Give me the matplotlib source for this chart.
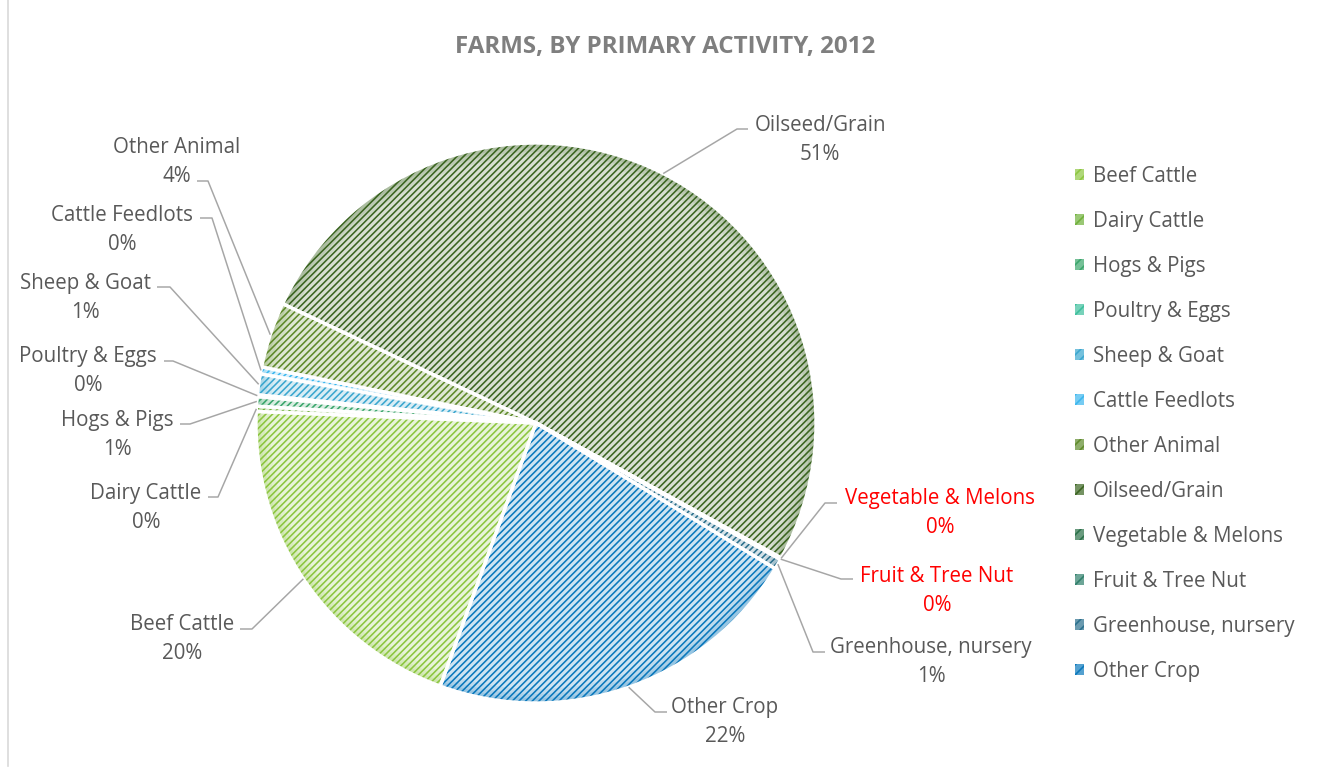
import matplotlib.pyplot as plt
import numpy as np
from matplotlib.colors import to_rgb
from matplotlib.patches import Patch

W, H, DPI = 1325, 772, 120

activities = [
    "Beef Cattle", "Dairy Cattle", "Hogs & Pigs", "Poultry & Eggs",
    "Sheep & Goat", "Cattle Feedlots", "Other Animal", "Oilseed/Grain",
    "Vegetable & Melons", "Fruit & Tree Nut", "Greenhouse, nursery", "Other Crop",
]
share_pct = [20.1, 0.3, 0.55, 0.1, 1.2, 0.4, 3.8, 51.0, 0.05, 0.05, 0.6, 21.85]
slice_colors = [
    "#8cc63f", "#6fb03a", "#3aa56b", "#3cbf9c", "#3aa6cf", "#3bb6ee",
    "#5e8a2a", "#3a6420", "#2a7048", "#2f7f6a", "#2a6f8c", "#0a78bc",
]
label_colors = ["#595959"] * 8 + ["#ff0000", "#ff0000"] + ["#595959"] * 2

# label block centres and leader elbows, pixels from the top-left corner
label_pos = [
    (182, 639), (146, 508), (117, 435), (88, 371), (85, 298), (122, 230),
    (177, 162), (820, 140), (940, 513), (937, 591), (931, 662), (725, 722),
]
leader_knee = [
    (240, 252, 629), (208, 218, 497), (180, 190, 424), (164, 173, 361),
    (157, 170, 287), (200, 212, 218), (197, 208, 181), (748, 737, 129),
    (837, 825, 503), (853, 841, 579), (825, 813, 652), (667, 655, 712),
]

CX, CY, R = 536, 423, 280
START = -110


def tint(color, t):
    rgb = np.array(to_rgb(color))
    return tuple(1 - (1 - rgb) * t)


plt.rcParams["font.family"] = ["Open Sans", "DejaVu Sans"]
plt.rcParams["hatch.linewidth"] = 0.95

fig = plt.figure(figsize=(W / DPI, H / DPI), dpi=DPI, facecolor="white")
ax = fig.add_axes([0, 0, 1, 1])
center = (CX, H - CY)
pie_kw = dict(startangle=START, counterclock=False, radius=R, center=center)

wedges, _ = ax.pie(share_pct, colors=[tint(c, 0.2) for c in slice_colors],
                   wedgeprops=dict(linewidth=0), **pie_kw)
for wedge, color in zip(wedges, slice_colors):
    wedge.set_hatch("//////")
    wedge.set_edgecolor(color)
    wedge.set_linewidth(0)

# darker rim, like the soft edge in the original
for width, alpha in [(14, 0.08), (9, 0.10), (5, 0.12)]:
    ax.pie(share_pct, colors=slice_colors,
           wedgeprops=dict(width=width, linewidth=0, alpha=alpha), **pie_kw)

ax.pie(share_pct, colors=["none"] * len(share_pct),
       wedgeprops=dict(edgecolor="white", linewidth=2.0, fill=False), **pie_kw)

for wedge, name, pct, color, (tx, ty), (x0, x1, ky) in zip(
        wedges, activities, share_pct, label_colors, label_pos, leader_knee):
    mid = np.deg2rad((wedge.theta1 + wedge.theta2) / 2)
    rx = center[0] + R * np.cos(mid)
    ry = center[1] + R * np.sin(mid)
    ax.plot([x0, x1, rx], [H - ky, H - ky, ry], color="#a6a6a6", lw=0.9,
            solid_capstyle="butt")
    ax.text(tx, H - ty, f"{name}\n{pct:.0f}%", ha="center", va="center",
            multialignment="center", fontsize=12.3, color=color, linespacing=1.5)

ax.plot([8, 8], [H, 6], color="#d9d9d9", lw=1)
ax.set_xlim(0, W)
ax.set_ylim(0, H)
ax.axis("off")

fig.text(665 / W, 1 - 47 / H, "FARMS, BY PRIMARY ACTIVITY, 2012", ha="center",
         va="center", fontsize=14.5, weight="bold", color="#7f7f7f")

handles = [Patch(facecolor=tint(c, 0.7), edgecolor=c, hatch="////", linewidth=0)
           for c in slice_colors]
fig.legend(handles, activities, loc="upper left",
           bbox_to_anchor=(1075 / W, 1 - 166 / H), frameon=False, fontsize=12.3,
           handlelength=0.42, handleheight=0.42, handletextpad=0.45,
           labelspacing=1.17, borderpad=0, borderaxespad=0, labelcolor="#595959")

fig.savefig("out.png", dpi=DPI)
